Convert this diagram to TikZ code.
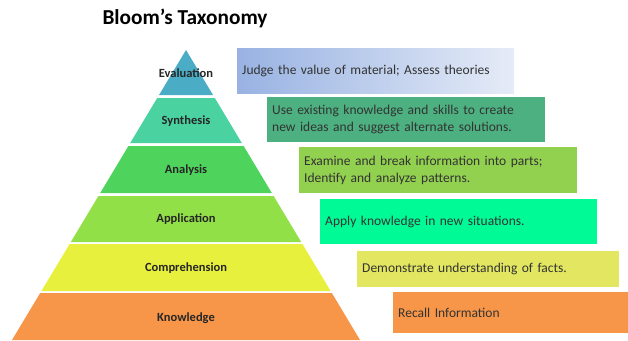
\documentclass[tikz,border=0pt]{standalone}
\usepackage{fontspec}
\setmainfont{Carlito}
\usepackage{tikz}
\usetikzlibrary{positioning}

% pyramid tiers
\definecolor{BTevaluation}{RGB}{75,172,198}
\definecolor{BTsynthesis}{RGB}{74,210,160}
\definecolor{BTanalysis}{RGB}{78,212,92}
\definecolor{BTapplication}{RGB}{146,224,72}
\definecolor{BTcomprehension}{RGB}{232,240,62}
\definecolor{BTknowledge}{RGB}{247,150,72}
% description boxes
\definecolor{BTjudge}{RGB}{152,178,226}
\definecolor{BTcreate}{RGB}{76,176,128}
\definecolor{BTexamine}{RGB}{146,208,80}
\definecolor{BTapply}{RGB}{0,250,150}
\definecolor{BTfacts}{RGB}{226,230,96}
\definecolor{BTrecall}{RGB}{247,150,72}

\tikzset{
  tierlabel/.style={font=\fontsize{12.5}{14}\selectfont\bfseries, text=black!85},
  tierbox/.style={anchor=north west, inner xsep=5pt, inner ysep=0pt, align=left,
    font=\fontsize{13.5}{16.5}\selectfont, text=black!80},
}

\begin{document}
\begin{tikzpicture}[x=1pt, y=-1pt]
    \useasboundingbox (0,0) rectangle (628,340);

    \node[font=\fontsize{21.3}{24}\selectfont\bfseries] (title) at (185,18) {Bloom’s Taxonomy};

    % the pyramid, narrow tier on top
    \fill[BTevaluation] (186,50) -- (213,95) -- (159,95) -- cycle;
    \fill[BTsynthesis] (157.2,98) -- (214.8,98) -- (241.8,143) -- (130.2,143) -- cycle;
    \fill[BTanalysis] (128.4,146) -- (243.6,146) -- (271.8,193) -- (100.2,193) -- cycle;
    \fill[BTapplication] (98.4,196) -- (273.6,196) -- (301.2,242) -- (70.8,242) -- cycle;
    \fill[BTcomprehension] (69.6,244) -- (302.4,244) -- (330.6,291) -- (41.4,291) -- cycle;
    \fill[BTknowledge] (40.2,293) -- (331.8,293) -- (360,340) -- (12,340) -- cycle;

    \node[tierlabel] (evaluation) at (186,73) {Evaluation};
    \node[tierlabel] (synthesis) at (186,121) {Synthesis};
    \node[tierlabel] (analysis) at (186,170) {Analysis};
    \node[tierlabel] (application) at (186,219) {Application};
    \node[tierlabel] (comprehension) at (186,268) {Comprehension};
    \node[tierlabel] (knowledge) at (186,318) {Knowledge};

    % what each tier means
    \node[tierbox, left color=BTjudge, middle color=BTjudge, right color=BTjudge!25,
      minimum width=277pt, minimum height=45pt, text width=267pt] (judge) at (237,48)
      {Judge the value of material; Assess theories};
    \node[tierbox, fill=BTcreate, minimum width=278pt, minimum height=45pt, text width=268pt] (create) at (267,97)
      {Use existing knowledge and skills to create\\new ideas and suggest alternate solutions.};
    \node[tierbox, fill=BTexamine, minimum width=278pt, minimum height=46pt, text width=268pt] (examine) at (299,147)
      {Examine and break information into parts;\\Identify and analyze patterns.};
    \node[tierbox, fill=BTapply, minimum width=277pt, minimum height=45pt, text width=267pt] (apply) at (320,199)
      {Apply knowledge in new situations.};
    \node[tierbox, fill=BTfacts, minimum width=262pt, minimum height=36pt, text width=252pt] (facts) at (357,251)
      {Demonstrate understanding of facts.};
    \node[tierbox, fill=BTrecall, minimum width=235pt, minimum height=41pt, text width=225pt] (recall) at (393,292)
      {Recall Information};
\end{tikzpicture}
\end{document}
